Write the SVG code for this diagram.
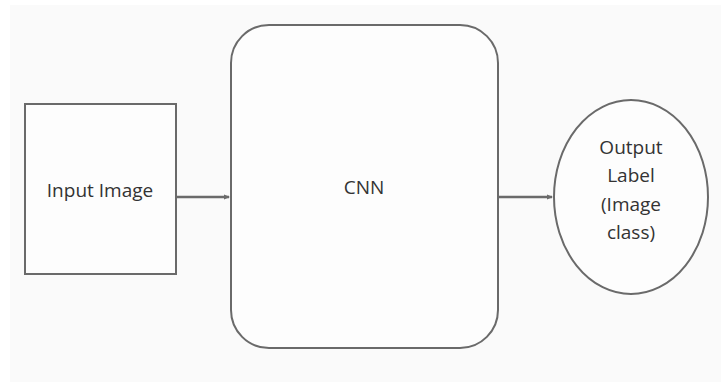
<svg xmlns="http://www.w3.org/2000/svg" width="721" height="382" viewBox="0 0 721 382">
<style>
.node{fill:#fdfdfd;stroke:#6a6a6a;stroke-width:2}
.lbl{font-family:"Open Sans","Noto Sans",sans-serif;font-size:19px;fill:#333;text-anchor:middle}
.conn{stroke:#6a6a6a;stroke-width:2.5;fill:none}
</style>
<defs>
<marker id="ah" markerWidth="6" markerHeight="6" refX="5" refY="3" orient="auto" markerUnits="userSpaceOnUse">
<path d="M0,0.5 L6,3 L0,5.5 Z" fill="#6a6a6a"/>
</marker>
</defs>
<rect x="0" y="0" width="721" height="382" fill="#ffffff"/>
<rect x="10" y="5" width="711" height="377" fill="#fafafa"/>
<g id="input">
<rect class="node" x="25" y="104" width="151" height="170"/>
<text class="lbl" x="100" y="197">Input Image</text>
</g>
<g id="cnn">
<rect class="node" x="231" y="25" width="267" height="323" rx="38" ry="38"/>
<text class="lbl" x="364" y="194">CNN</text>
</g>
<g id="output">
<ellipse class="node" cx="631" cy="197" rx="77" ry="97"/>
<text class="lbl" x="631" y="154">Output</text>
<text class="lbl" x="631" y="182">Label</text>
<text class="lbl" x="631" y="211">(Image</text>
<text class="lbl" x="631" y="239">class)</text>
</g>
<g id="connectors">
<line class="conn" x1="177" y1="197" x2="229" y2="197" marker-end="url(#ah)"/>
<line class="conn" x1="499" y1="197" x2="552" y2="197" marker-end="url(#ah)"/>
</g>
</svg>
